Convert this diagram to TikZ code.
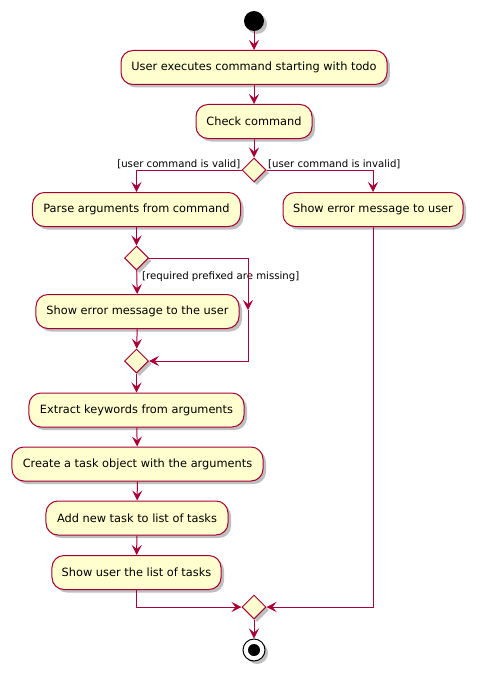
\documentclass[tikz,border=0pt]{standalone}
\usepackage{fontspec}
\setmainfont{DejaVu Sans}
\usetikzlibrary{arrows.meta,shapes.geometric,shadows}
\definecolor{pborder}{HTML}{A80036}
\definecolor{pfill}{HTML}{FEFECE}
\begin{document}
\begin{tikzpicture}[x=1bp,y=-1bp,
  shad/.style={drop shadow={shadow xshift=3bp,shadow yshift=-3bp,fill=black,opacity=0.25}},
  act/.style={draw=pborder, fill=pfill, line width=1bp, rounded corners=12bp,
    minimum height=34bp, inner sep=0pt, font=\fontsize{11.4}{13}\selectfont, shad},
  dec/.style={diamond, aspect=1, draw=pborder, fill=pfill, line width=1bp,
    minimum width=24bp, minimum height=24bp, inner sep=0pt, shad},
  conn/.style={draw=pborder, line width=1bp, -{Stealth[length=10bp,width=10bp,inset=4bp]}},
  guard/.style={font=\fontsize{10.2}{12}\selectfont, inner sep=1bp}
]
\useasboundingbox (0,0) rectangle (479,677);
\fill[white] (0,0) rectangle (479,677);

\node[circle, fill=black, minimum size=20bp, inner sep=0pt, shad] (start) at (254,21) {};
\node[act, minimum width=266bp] (b1) at (254,67.5) {User executes command starting with todo};
\node[act, minimum width=116bp] (b2) at (254,121.5) {Check command};
\node[dec] (d1) at (254,170) {};
\node[act, minimum width=208bp] (b3) at (136.5,209.5) {Parse arguments from command};
\node[act, minimum width=180bp] (b4) at (373,209.5) {Show error message to user};
\node[dec] (d2) at (136.5,258) {};
\node[act, minimum width=203bp] (b5) at (137.5,311.5) {Show error message to the user};
\node[dec] (d3) at (136.5,361) {};
\node[act, minimum width=215bp] (b6) at (136.5,410) {Extract keywords from arguments};
\node[act, minimum width=251bp] (b7) at (137.5,464) {Create a task object with the arguments};
\node[act, minimum width=182bp] (b8) at (137,518) {Add new task to list of tasks};
\node[act, minimum width=169bp] (b9) at (136.5,572.5) {Show user the list of tasks};
\node[dec] (d4) at (254,607) {};
\node[circle, draw=black, fill=white, line width=1bp, minimum size=22bp, inner sep=0pt, shad] (stop) at (254,650) {};
\node[circle, fill=black, minimum size=12bp, inner sep=0pt] (stopin) at (254,650) {};

\node[guard, anchor=south east] (gvalid) at (241.5,170) {[user command is valid]};
\node[guard, anchor=south west] (ginvalid) at (267,170) {[user command is invalid]};
\node[guard, anchor=west] (gmiss) at (141,277) {[required prefixed are missing]};

\coordinate (c1) at (248,258);
\coordinate (c2) at (248,310);
\coordinate (c3) at (248,361);

\draw[conn] (start) -- (b1);
\draw[conn] (b1) -- (b2);
\draw[conn] (b2) -- (d1);
\draw[conn] (d1.west) -| (b3.north);
\draw[conn] (d1.east) -| (b4.north);
\draw[conn] (b3) -- (d2);
\draw[conn] (d2) -- (b5);
\draw[conn] (d2.east) -- (c1) -- (c2);
\draw[conn] (c2) -- (c3) -- (d3.east);
\draw[conn] (b5) -- (d3);
\draw[conn] (d3) -- (b6);
\draw[conn] (b6) -- (b7);
\draw[conn] (b7) -- (b8);
\draw[conn] (b8) -- (b9);
\draw[conn] (b9.south) |- (d4.west);
\draw[conn] (b4.south) |- (d4.east);
\draw[conn] (d4) -- (stop);
\end{tikzpicture}
\end{document}
